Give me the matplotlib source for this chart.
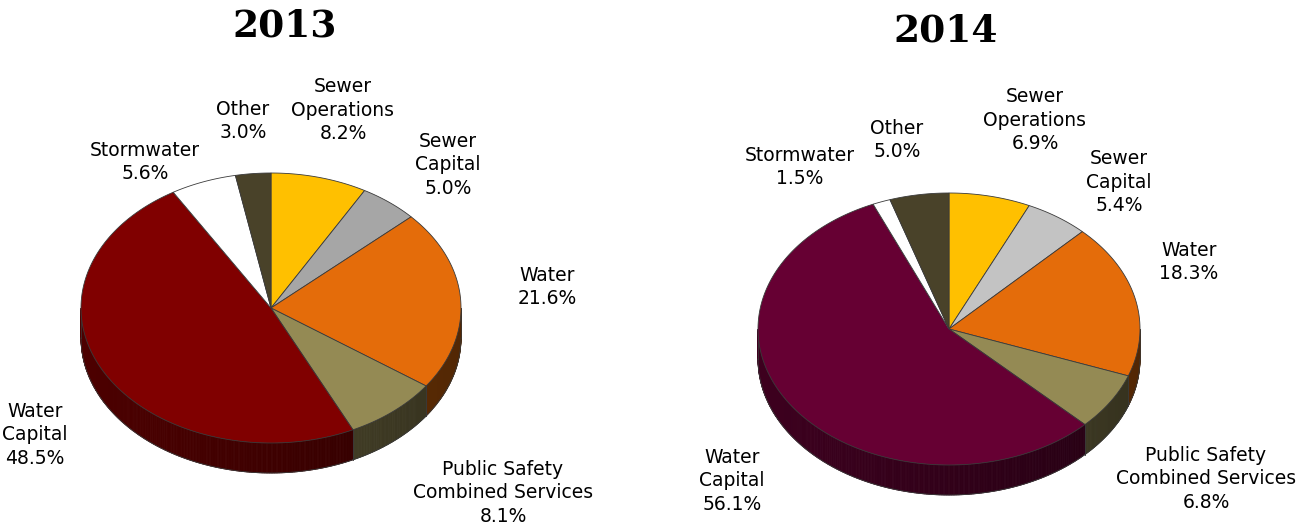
import numpy as np
import matplotlib
matplotlib.use("Agg")
import matplotlib.pyplot as plt
from matplotlib.patches import Polygon
from matplotlib.colors import to_rgb

# Budget shares (percent), clockwise from 12 o'clock
categories = ["Sewer Operations", "Sewer Capital", "Water", "Public Safety Combined Services",
              "Water Capital", "Stormwater", "Other"]
values_2013 = [8.2, 5.0, 21.6, 8.1, 48.5, 5.6, 3.0]
values_2014 = [6.9, 5.4, 18.3, 6.8, 56.1, 1.5, 5.0]

label_text = ["Sewer\nOperations", "Sewer\nCapital", "Water", "Public Safety\nCombined Services",
              "Water\nCapital", "Stormwater", "Other"]

colors_2013 = ["#FFC000", "#A6A6A6", "#E46C0A", "#948A54", "#800000", "#FFFFFF", "#494229"]
colors_2014 = ["#FFC000", "#C3C3C3", "#E46C0A", "#948A54", "#660033", "#FFFFFF", "#494229"]

# label anchor points (pixel coordinates) for each slice
label_pos_2013 = [(343, 110), (448, 165), (547, 287), (503, 493), (35, 435), (145, 162), (243, 121)]
label_pos_2014 = [(1035, 120), (1119, 182), (1189, 262), (1206, 479), (732, 481), (800, 167), (897, 140)]

W, H = 1312, 527
fig = plt.figure(figsize=(W / 100, H / 100), dpi=100)
ax = fig.add_axes([0, 0, 1, 1])
ax.set_xlim(0, W)
ax.set_ylim(H, 0)
ax.axis("off")

EDGE = "#3a3a3a"


def shade(c, f):
    r, g, b = to_rgb(c)
    return (r * f, g * f, b * f)


def side_factor(t_deg):
    return 0.36 + 0.24 * (1 + np.cos(np.radians(t_deg - 180))) / 2


def draw_pie(values, colors, cx, cy, rx, ry, depth):
    total = sum(values)
    cum = np.concatenate([[0], np.cumsum(values)]) / total
    bounds = [(90 - 360 * cum[i + 1], 90 - 360 * cum[i]) for i in range(len(values))]

    def pt(t, dy=0.0):
        r = np.radians(t)
        return cx + rx * np.cos(r), cy - ry * np.sin(r) + dy

    # side walls: only the front half (where sin t < 0) is visible
    for (t1, t0), col in zip(bounds, colors):
        for k in range(-2, 2):
            a = max(t1, 180 + 360 * k)
            b = min(t0, 360 + 360 * k)
            if b <= a:
                continue
            ts = np.linspace(a, b, max(3, int((b - a) * 2) + 1))
            for u, v in zip(ts[:-1], ts[1:]):
                f = side_factor((u + v) / 2)
                fc = shade(col, f) if col != "#FFFFFF" else shade(col, 0.85)
                quad = [pt(u), pt(v), pt(v, depth), pt(u, depth)]
                ax.add_patch(Polygon(quad, closed=True, facecolor=fc, edgecolor=fc,
                                     linewidth=0.6, zorder=1))
            for t in (a, b):
                x, y = pt(t)
                ax.plot([x, x], [y, y + depth], color=EDGE, lw=0.5, zorder=2)
            tb = np.linspace(a, b, 100)
            xb, yb = zip(*[pt(t, depth) for t in tb])
            ax.plot(xb, yb, color=EDGE, lw=0.6, zorder=2)

    # top faces
    for (t1, t0), col in zip(bounds, colors):
        ts = np.linspace(t0, t1, max(4, int((t0 - t1) * 2)))
        poly = [(cx, cy)] + [pt(t) for t in ts]
        ax.add_patch(Polygon(poly, closed=True, facecolor=col, edgecolor=EDGE,
                             linewidth=0.6, zorder=3))


def draw_labels(values, positions):
    for txt, v, (x, y) in zip(label_text, values, positions):
        ax.text(x, y, f"{txt}\n{v:.1f}%", ha="center", va="center", fontsize=13.5,
                family="DejaVu Sans", linespacing=1.3, color="black", zorder=5)


draw_pie(values_2013, colors_2013, cx=271, cy=308, rx=190, ry=135, depth=30)
draw_pie(values_2014, colors_2014, cx=949, cy=329, rx=191, ry=136, depth=30)
draw_labels(values_2013, label_pos_2013)
draw_labels(values_2014, label_pos_2014)

ax.text(285, 26, "2013", ha="center", va="center", fontsize=27, fontweight="bold",
        family="DejaVu Serif", color="black")
ax.text(946, 31, "2014", ha="center", va="center", fontsize=27, fontweight="bold",
        family="DejaVu Serif", color="black")

fig.savefig("out.png", dpi=100, facecolor="white")
